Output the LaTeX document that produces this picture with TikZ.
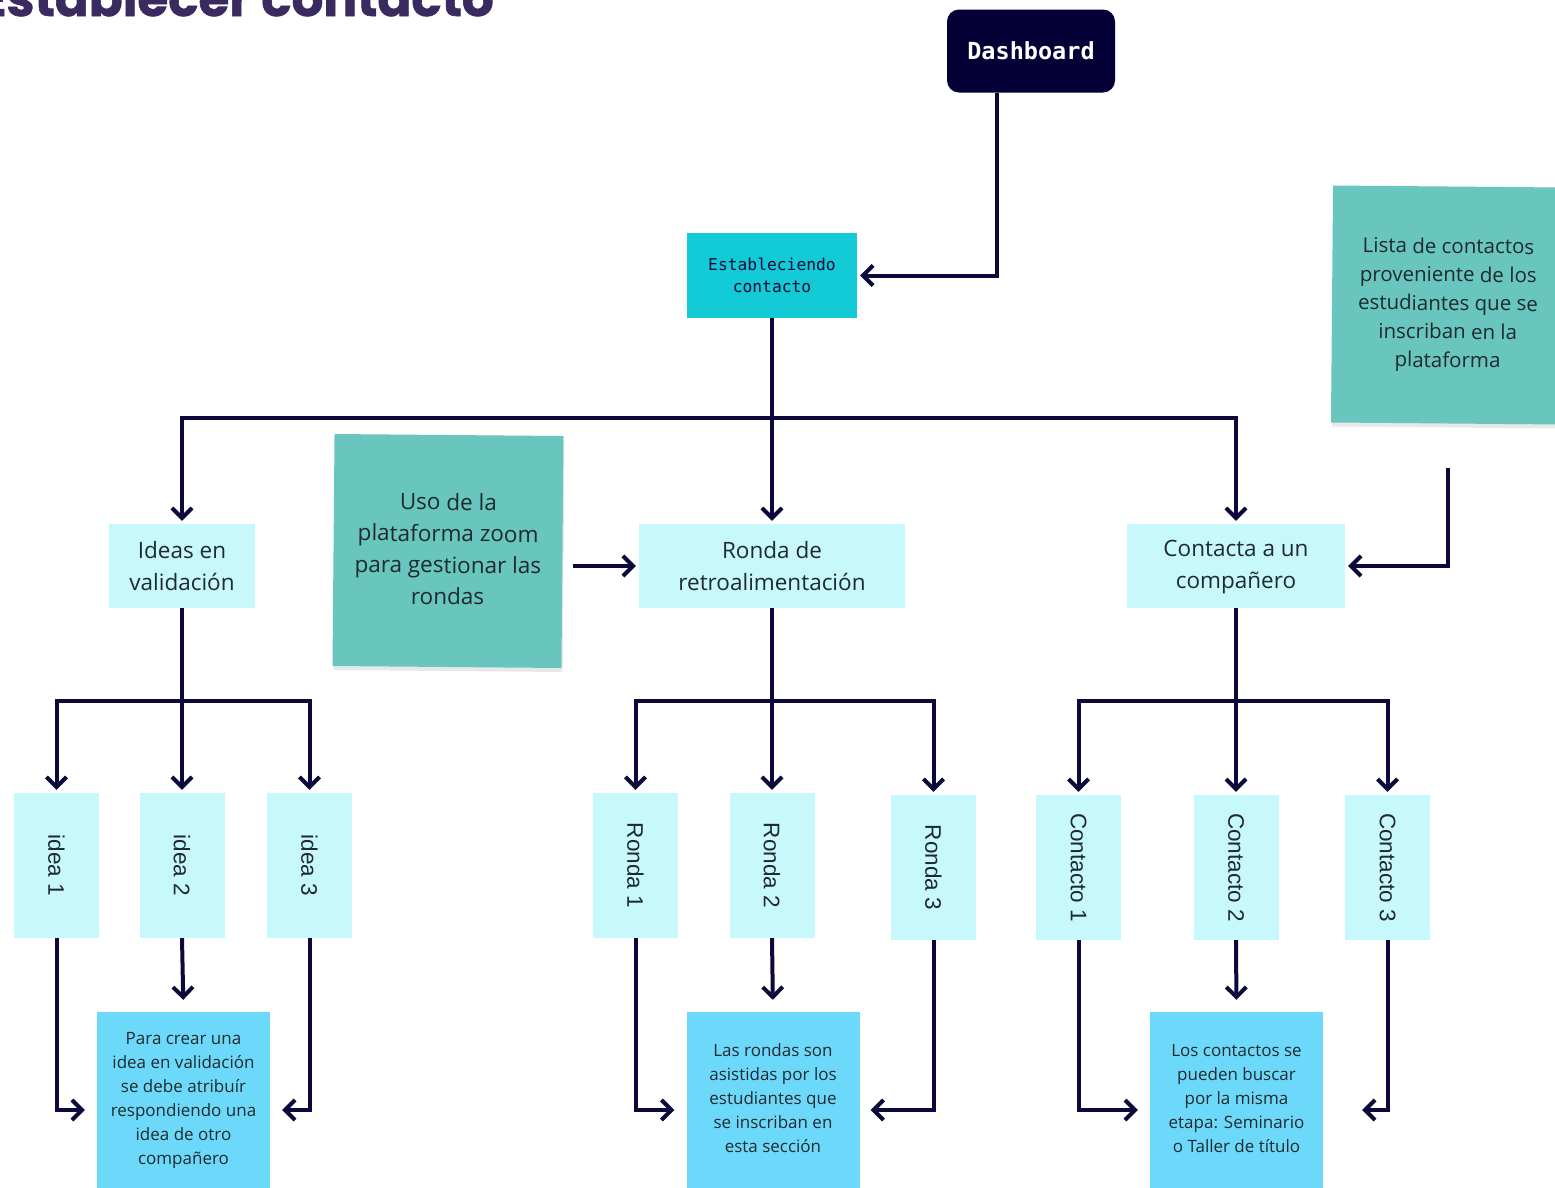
\documentclass[tikz,border=0pt]{standalone}
\usepackage{fontspec}
\usepackage{graphicx}
\setmainfont{Open Sans}
\newfontfamily\titlefont{Poppins}
\newfontfamily\codefont{DejaVu Sans Mono}
\newfontfamily\labelfont{Liberation Sans}
\usetikzlibrary{arrows.meta,shadows}

\definecolor{navy}{HTML}{0B0A3A}
\definecolor{dashfill}{HTML}{050035}
\definecolor{cyanbox}{HTML}{12CBD6}
\definecolor{paleCyan}{HTML}{C6F8FC}
\definecolor{teal}{HTML}{68C6BF}
\definecolor{skyblue}{HTML}{6DD9FA}
\definecolor{titlec}{HTML}{3B2A5F}
\definecolor{ink}{HTML}{1F2A2E}

\tikzset{
  line/.style={draw=navy, line width=4},
  arr/.style={line, -{Straight Barb[length=10,width=20]}, shorten >=3},
  dashbox/.style={fill=dashfill, rounded corners=12, minimum width=168, minimum height=83,
    text=white, font=\codefont\bfseries\fontsize{23.5}{26}\selectfont, inner sep=0},
  estbox/.style={fill=cyanbox, minimum width=170, minimum height=85, text=navy, align=center,
    font=\codefont\fontsize{16.3}{22}\selectfont, inner sep=0},
  midbox/.style={fill=paleCyan, minimum height=84, text=ink, align=center,
    font=\fontsize{22.5}{32}\selectfont, inner sep=0},
  sticky/.style={fill=teal, text=ink, align=center, inner sep=0, rotate=-0.5,
    drop shadow={shadow xshift=1pt, shadow yshift=-4pt, opacity=0.09, fill=black}},
  leaf/.style={fill=paleCyan, minimum width=85, minimum height=145, text=ink,
    font=\labelfont\fontsize{22.5}{26}\selectfont, inner sep=0},
  note/.style={fill=skyblue, minimum width=173, minimum height=176, text=ink, align=center,
    font=\fontsize{17}{24}\selectfont, inner sep=0},
}

\begin{document}
\begin{tikzpicture}[x=1pt, y=-1pt]
\useasboundingbox (0,0) rectangle (1555,1187);
\clip (0,0) rectangle (1555,1187);

% heading
\node[anchor=base east, font=\titlefont\bfseries\addfontfeature{FakeBold=1.2}\fontsize{50}{50}\selectfont,
      text=titlec, inner sep=0] (title) at (494,16) {Establecer contacto};

% top level
\node[dashbox] (dash) at (1031,51) {Dashboard};
\node[estbox] (est) at (772,275.5) {Estableciendo\\contacto};

% second level
\node[midbox, minimum width=146] (ideas) at (182,566) {Ideas en\\validación};
\node[midbox, minimum width=266] (ronda) at (772,566) {Ronda de\\retroalimentación};
\node[midbox, minimum width=218] (contacta) at (1236,566) {\raisebox{-5pt}{\begin{tabular}{@{}c@{}}Contacta a un\\compañero\end{tabular}}};

% sticky notes
\node[sticky, minimum width=229, minimum height=232,
      font=\fontsize{22.5}{31.5}\selectfont] (uso) at (448,551)
  {\raisebox{4pt}{\begin{tabular}{@{}c@{}}Uso de la\\plataforma zoom\\para gestionar las\\rondas\end{tabular}}};
\node[sticky, minimum width=232, minimum height=237,
      font=\fontsize{20.5}{28.5}\selectfont] (lista) at (1448,305)
  {Lista de contactos\\proveniente de los\\estudiantes que se\\inscriban en la\\plataforma};

% third level
\node[leaf] (idea1) at (56.5,865.5) {\rotatebox{-90}{idea 1}};
\node[leaf] (idea2) at (182,865.5) {\rotatebox{-90}{idea 2}};
\node[leaf] (idea3) at (309.5,865.5) {\rotatebox{-90}{idea 3}};
\node[leaf] (ronda1) at (635.5,865.5) {\rotatebox{-90}{Ronda 1}};
\node[leaf] (ronda2) at (772,865.5) {\rotatebox{-90}{Ronda 2}};
\node[leaf] (ronda3) at (933.5,867.5) {\rotatebox{-90}{Ronda 3}};
\node[leaf] (cont1) at (1078.5,867.5) {\rotatebox{-90}{Contacto 1}};
\node[leaf] (cont2) at (1236,867.5) {\rotatebox{-90}{Contacto 2}};
\node[leaf] (cont3) at (1387.5,867.5) {\rotatebox{-90}{Contacto 3}};

% explanatory notes
\node[note] (note1) at (183.5,1100) {Para crear una\\idea en validación\\se debe atribuír\\respondiendo una\\idea de otro\\compañero};
\node[note] (note2) at (773,1100) {\raisebox{3pt}{\begin{tabular}{@{}c@{}}Las rondas son\\asistidas por los\\estudiantes que\\se inscriban en\\esta sección\end{tabular}}};
\node[note] (note3) at (1236.5,1100) {\raisebox{2pt}{\begin{tabular}{@{}c@{}}Los contactos se\\pueden buscar\\por la misma\\etapa: Seminario\\o Taller de título\end{tabular}}};

% junction points
\coordinate (dsrc) at ([xshift=-34]dash.south);
\coordinate (bus0) at (772,418);
\coordinate (bus1) at (182,701);
\coordinate (bus2) at (772,701);
\coordinate (bus3) at (1236,701);
\coordinate (lsrc) at (1448,468);

% connectors
\draw[arr] (dsrc) |- (est.east);
\draw[line] (est.south) -- (bus0);
\draw[arr] (bus0) -| (ideas.north);
\draw[arr] (bus0) -- (ronda.north);
\draw[arr] (bus0) -| (contacta.north);

\draw[arr, shorten <=10] (uso.east |- ronda.west) -- (ronda.west);
\draw[arr] (lsrc) |- (contacta.east);

\draw[line] (ideas.south) -- (bus1);
\draw[arr] (bus1) -| (idea1.north);
\draw[arr] (bus1) -- (idea2.north);
\draw[arr] (bus1) -| (idea3.north);

\draw[line] (ronda.south) -- (bus2);
\draw[arr] (bus2) -| (ronda1.north);
\draw[arr] (bus2) -- (ronda2.north);
\draw[arr] (bus2) -| (ronda3.north);

\draw[line] (contacta.south) -- (bus3);
\draw[arr] (bus3) -| (cont1.north);
\draw[arr] (bus3) -- (cont2.north);
\draw[arr] (bus3) -| (cont3.north);

\draw[arr, shorten >=12] (idea1.south) |- ([yshift=-10]note1.west);
\draw[arr, shorten >=12] (idea2.south) -- (note1.north);
\draw[arr, shorten >=12] (idea3.south) |- ([yshift=-10]note1.east);

\draw[arr, shorten >=12] (ronda1.south) |- ([yshift=-10]note2.west);
\draw[arr, shorten >=12] (ronda2.south) -- (note2.north);
\draw[arr, shorten >=11] (ronda3.south) |- ([yshift=-10]note2.east);

\draw[arr, shorten >=12] (cont1.south) |- ([yshift=-10]note3.west);
\draw[arr, shorten >=12] (cont2.south) -- (note3.north);
\draw[arr, shorten >=39] (cont3.south) |- ([yshift=-10]note3.east);
\end{tikzpicture}
\end{document}
